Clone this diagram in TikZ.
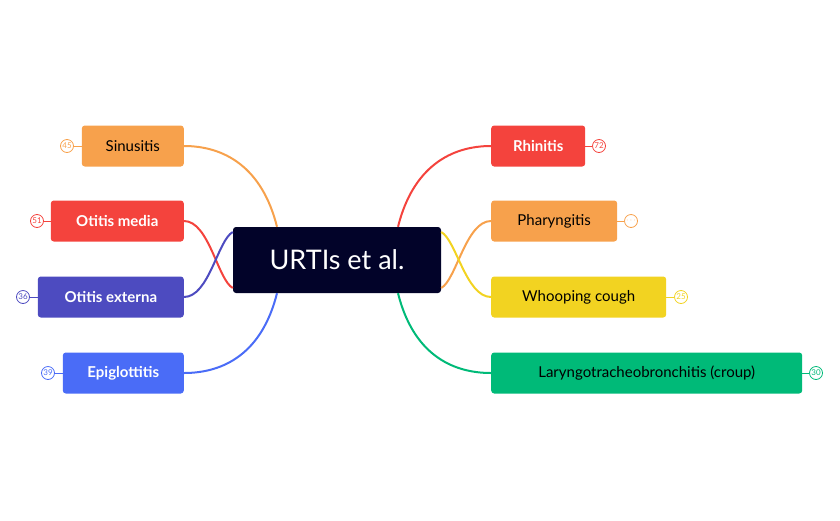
\documentclass[tikz,border=0pt]{standalone}
\usepackage{fontspec}
\setmainfont{Lato}
\definecolor{cOrange}{HTML}{F7A14C}
\definecolor{cRed}{HTML}{F4433D}
\definecolor{cIndigo}{HTML}{4D4BC0}
\definecolor{cBlue}{HTML}{4A6CF7}
\definecolor{cYellow}{HTML}{F2D321}
\definecolor{cGreen}{HTML}{00BA78}
\definecolor{cDark}{HTML}{020329}
\begin{document}
\begin{tikzpicture}[x=1pt, y=-1pt,
    topic/.style={rounded corners=3pt, minimum height=41pt, inner sep=0pt, font=\fontsize{15}{18}\selectfont, text=black},
    light/.style={topic, text=white, font=\fontsize{15}{18}\selectfont\bfseries},
    badge/.style={circle, draw, line width=0.8pt, minimum size=13pt, inner sep=0pt, font=\fontsize{8}{8}\selectfont},
    link/.style={line width=2pt}]
    \useasboundingbox (0,0) rectangle (840,520);
    % centre
    \node[topic, fill=cDark, text=white, minimum width=208pt, minimum height=66pt, font=\fontsize{27}{30}\selectfont] (root) at (337,260) {URTIs et al.};
    % left branches
    \node[topic, fill=cOrange, minimum width=102pt, anchor=east] (sinus) at (184,146) {Sinusitis};
    \node[light, fill=cRed, minimum width=133pt, anchor=east] (media) at (184,221) {Otitis media};
    \node[light, fill=cIndigo, minimum width=146pt, anchor=east] (externa) at (184,297) {Otitis externa};
    \node[light, fill=cBlue, minimum width=121pt, anchor=east] (epi) at (184,373) {Epiglottitis};
    % right branches
    \node[light, fill=cRed, minimum width=94pt, anchor=west] (rhin) at (491,146) {Rhinitis};
    \node[topic, fill=cOrange, minimum width=126pt, anchor=west] (phar) at (491,221) {Pharyngitis};
    \node[topic, fill=cYellow, minimum width=175pt, anchor=west] (whoop) at (491,297) {Whooping cough};
    \node[topic, fill=cGreen, minimum width=311pt, anchor=west] (croup) at (491,373) {Laryngotracheobronchitis (croup)};
    % badges
    \node[badge, draw=cOrange, text=cOrange] (b45) at (67,146) {45};
    \node[badge, draw=cRed, text=cRed] (b51) at (37,221) {51};
    \node[badge, draw=cIndigo, text=cIndigo] (b36) at (23,297) {36};
    \node[badge, draw=cBlue, text=cBlue] (b39) at (48,373) {39};
    \node[badge, draw=cRed, text=cRed] (b72) at (599,146) {72};
    \node[badge, draw=cOrange, text=cOrange] (bdots) at (631,221) {$\cdots$};
    \node[badge, draw=cYellow, text=cYellow] (b25) at (681,297) {25};
    \node[badge, draw=cGreen, text=cGreen] (b30) at (816,373) {30};
    \foreach \n/\b/\c in {sinus/b45/cOrange, media/b51/cRed, externa/b36/cIndigo, epi/b39/cBlue} {
        \draw[\c, line width=1pt] (\n.west) -- (\b.east);
    }
    \foreach \n/\b/\c in {rhin/b72/cRed, phar/bdots/cOrange, whoop/b25/cYellow, croup/b30/cGreen} {
        \draw[\c, line width=1pt] (\n.east) -- (\b.west);
    }
    % connectors
    \draw[link, cOrange] ([xshift=-60pt]root.north) .. controls +(-15,-60) and +(40,0) .. (sinus.east);
    \draw[link, cRed] ([yshift=-28pt]root.west) .. controls +(-15,-8) and +(25,0) .. (media.east);
    \draw[link, cIndigo] ([yshift=28pt]root.west) .. controls +(-15,8) and +(25,0) .. (externa.east);
    \draw[link, cBlue] ([xshift=-60pt]root.south) .. controls +(-15,60) and +(40,0) .. (epi.east);
    \draw[link, cRed] ([xshift=61pt]root.north) .. controls +(15,-60) and +(-40,0) .. (rhin.west);
    \draw[link, cOrange] ([yshift=-28pt]root.east) .. controls +(15,-8) and +(-25,0) .. (phar.west);
    \draw[link, cYellow] ([yshift=28pt]root.east) .. controls +(15,8) and +(-25,0) .. (whoop.west);
    \draw[link, cGreen] ([xshift=61pt]root.south) .. controls +(15,60) and +(-40,0) .. (croup.west);
\end{tikzpicture}
\end{document}
